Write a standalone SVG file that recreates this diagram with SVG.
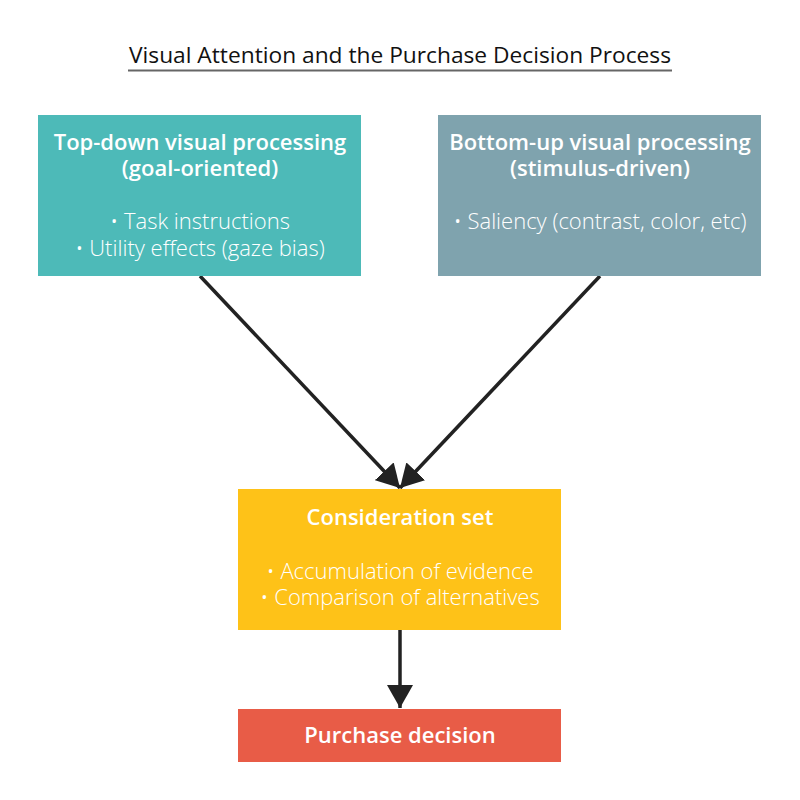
<svg xmlns="http://www.w3.org/2000/svg" width="800" height="800" viewBox="0 0 800 800">
<style>
  .hd { font-family: "Open Sans", "Noto Sans", sans-serif; font-weight: 600; font-size: 22px; fill: #ffffff; text-anchor: middle; }
  .bl { font-family: "Open Sans", "Noto Sans", sans-serif; font-weight: 300; font-size: 22px; fill: #ffffff; text-anchor: middle; }
  .title { font-family: "Open Sans", "Noto Sans", sans-serif; font-weight: 400; font-size: 22px; fill: #111111; text-anchor: middle; }
  .conn { stroke: #222222; stroke-width: 3.5; fill: none; marker-end: url(#ah); }
</style>
<defs>
  <marker id="ah" viewBox="0 0 23 26" refX="23" refY="13" markerWidth="23" markerHeight="26" markerUnits="userSpaceOnUse" orient="auto">
    <path d="M0,0 L23,13 L0,26 z" fill="#222222"/>
  </marker>
</defs>
<rect width="800" height="800" fill="#ffffff"/>
<g id="title">
  <text class="title" x="400" y="63" textLength="542" lengthAdjust="spacingAndGlyphs">Visual Attention and the Purchase Decision Process</text>
  <line x1="128" y1="70.5" x2="672" y2="70.5" stroke="#666666" stroke-width="2"/>
</g>
<g id="connectors">
  <line class="conn" x1="200" y1="276" x2="400" y2="488"/>
  <line class="conn" x1="600" y1="276" x2="400" y2="488"/>
  <line class="conn" x1="400" y1="630" x2="400" y2="708"/>
</g>
<g id="topdown">
  <rect x="38" y="115" width="323" height="161" fill="#4DBAB8"/>
  <text class="hd" x="200" y="150">Top-down visual processing</text>
  <text class="hd" x="200" y="176">(goal-oriented)</text>
  <text class="bl" x="200" y="229">• Task instructions</text>
  <text class="bl" x="200" y="256">• Utility effects (gaze bias)</text>
</g>
<g id="bottomup">
  <rect x="438" y="115" width="323" height="161" fill="#7FA3AE"/>
  <text class="hd" x="600" y="150">Bottom-up visual processing</text>
  <text class="hd" x="600" y="176">(stimulus-driven)</text>
  <text class="bl" x="600" y="229">• Saliency (contrast, color, etc)</text>
</g>
<g id="consideration">
  <rect x="238" y="489" width="323" height="141" fill="#FEC218"/>
  <text class="hd" x="400" y="525">Consideration set</text>
  <text class="bl" x="400" y="579">• Accumulation of evidence</text>
  <text class="bl" x="400" y="605">• Comparison of alternatives</text>
</g>
<g id="purchase">
  <rect x="238" y="709" width="323" height="53" fill="#E85C47"/>
  <text class="hd" x="400" y="743">Purchase decision</text>
</g>
</svg>
